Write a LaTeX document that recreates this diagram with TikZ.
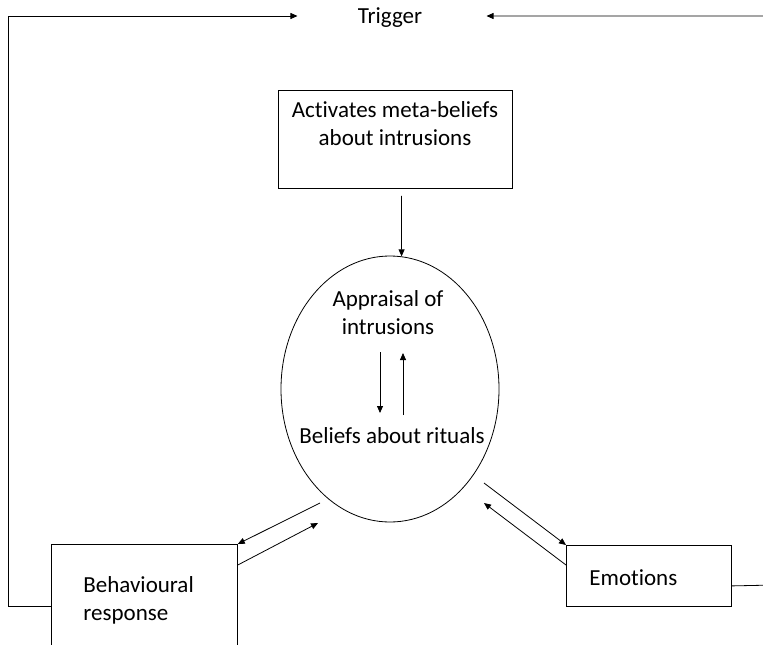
\documentclass[tikz,border=0pt]{standalone}
\usepackage{fontspec}
\setmainfont{Carlito}[Ligatures=NoCommon]
\usetikzlibrary{arrows.meta,shapes.geometric}
\begin{document}
\begin{tikzpicture}[x=1pt,y=-1pt,line width=0.8pt,
  arr/.style={-{Triangle[length=7pt,width=6pt]}},
  lbl/.style={font=\fontsize{23}{28}\selectfont,inner sep=0pt,align=center},
  box/.style={draw,inner sep=0pt,anchor=north west}]
\clip (0,0) rectangle (763,645);
% central trigger and the boxes around the appraisal ellipse
\node[lbl] (trigger) at (390,18) {Trigger};
\node[box,minimum width=234pt,minimum height=98pt] (meta) at (278,90) {};
\node[lbl,anchor=north] (metatext) at (395,101) {Activates meta-beliefs\\about intrusions};
\node[draw,ellipse,inner sep=0pt,minimum width=218pt,minimum height=266pt] (ell) at (390,389) {};
\node[lbl] (appraisal) at (388,313) {Appraisal of\\intrusions};
\node[lbl] (rituals) at (392,436) {Beliefs about rituals};
\node[box,minimum width=186pt,minimum height=124pt] (beh) at (51,544) {};
\node[lbl,anchor=west,align=left] (behtext) at (83,600) {Behavioural\\response};
\node[box,minimum width=165pt,minimum height=61pt] (emo) at (566,545) {};
\node[lbl,anchor=west] (emotext) at (589,578) {Emotions};
% connectors
\draw[arr] ([shift={(6,7)}]meta.south) -- (ell.85);
\draw[arr] (380,352) coordinate (dtop) -- ++(0,61);
\draw[arr] (403,415) coordinate (ubot) -- ++(0,-62);
\draw[arr] ([shift={(-70,114)}]ell.center) -- (beh.north east);
\draw[arr] ([shift={(0,21)}]beh.north east) -- ([shift={(-72,134)}]ell.center);
\draw[arr] ([shift={(94,94)}]ell.center) -- (emo.north west);
\draw[arr] ([shift={(0,20)}]emo.north west) -- ([shift={(94,114)}]ell.center);
% feedback loops back to the trigger
\coordinate (ltop) at (8,16);
\coordinate (rtop) at (775,16);
\draw[arr] (beh.west) -| (ltop) -- ([xshift=-60]trigger.west |- ltop);
\draw[arr] ([shift={(0,10)}]emo.east) -- (rtop |- 0,585) -- (rtop) -- ([xshift=64]trigger.east |- rtop);
\end{tikzpicture}
\end{document}
